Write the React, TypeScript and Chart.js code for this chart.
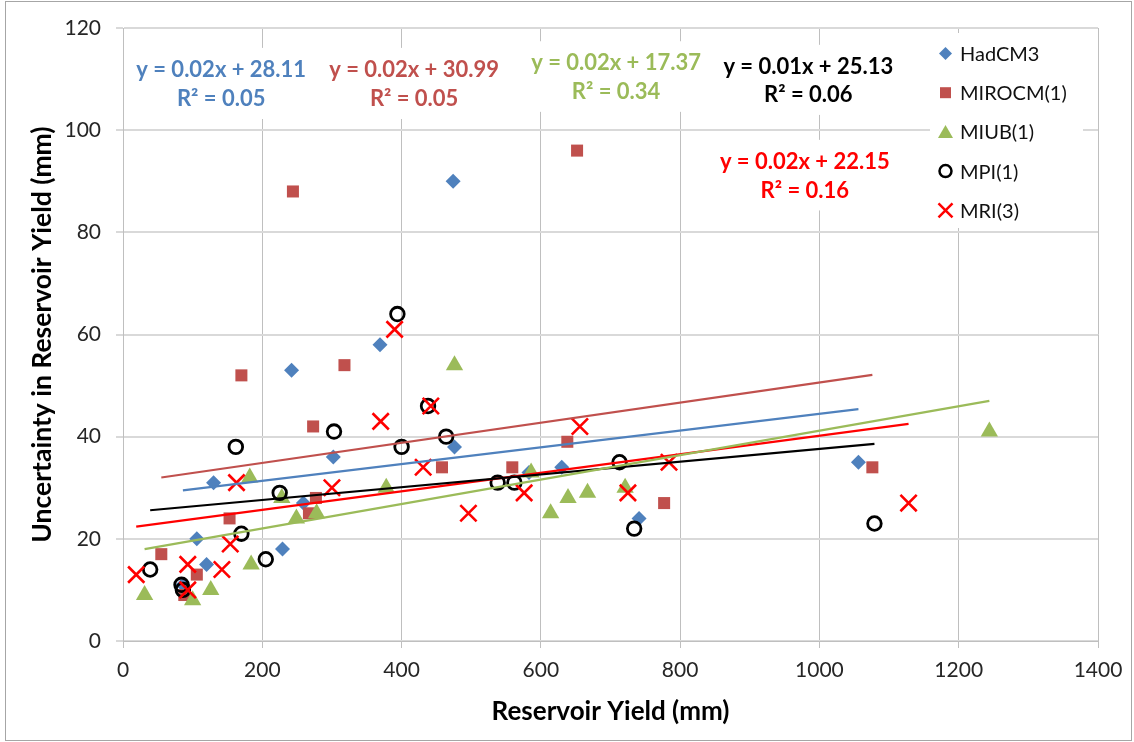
import React, { useEffect, useRef } from 'react';
import { Chart, registerables } from 'chart.js';

Chart.register(...registerables);

// ---- Data ----
const seriesNames = ['HadCM3', 'MIROCM(1)', 'MIUB(1)', 'MPI(1)', 'MRI(3)'];

const hadcm3X = [474, 369, 242, 476, 302, 130, 259, 106, 229, 120, 86, 583, 630, 741, 1056];
const hadcm3Y = [90, 58, 53, 38, 36, 31, 27, 20, 18, 15, 11, 33, 34, 24, 35];

const mirocmX = [652, 244, 170, 318, 273, 458, 559, 638, 153, 277, 267, 55, 106, 88, 777, 1076];
const mirocmY = [96, 88, 52, 54, 42, 34, 34, 39, 24, 28, 25, 17, 13, 9, 27, 34];

const miubX = [476, 182, 378, 228, 278, 249, 184, 126, 31, 100, 586, 614, 639, 667, 721, 1244];
const miubY = [54, 32, 30, 28, 25, 24, 15, 10, 9, 8, 33, 25, 28, 29, 30, 41];

const mpiX = [394, 438, 303, 464, 400, 162, 225, 538, 562, 713, 170, 205, 39, 84, 86, 734, 1079];
const mpiY = [64, 46, 41, 40, 38, 38, 29, 31, 31, 35, 21, 16, 14, 11, 10, 22, 23];

const mriX = [390, 442, 370, 656, 431, 163, 300, 576, 784, 725, 496, 154, 93, 142, 19, 93, 1128];
const mriY = [61, 46, 43, 42, 34, 31, 30, 29, 35, 29, 25, 19, 15, 14, 13, 10, 27];

// Linear trend lines (endpoints), order as seriesNames
const trendStartX = [86, 55, 31, 39, 19];
const trendStartY = [29.5, 32.0, 18.0, 25.6, 22.4];
const trendEndX = [1056, 1076, 1244, 1079, 1128];
const trendEndY = [45.4, 52.1, 47.0, 38.6, 42.5];

const equationTexts = ['y = 0.02x + 28.11', 'y = 0.02x + 30.99', 'y = 0.02x + 17.37', 'y = 0.01x + 25.13', 'y = 0.02x + 22.15'];
const r2Texts = ['R² = 0.05', 'R² = 0.05', 'R² = 0.34', 'R² = 0.06', 'R² = 0.16'];
// label anchor positions in data units
const eqPosX = [141, 418, 708, 984, 979];
const eqPosY = [111.8, 111.8, 113.1, 112.4, 93.8];
const r2PosY = [106.1, 106.1, 107.5, 106.9, 88.2];

const xTicks = [0, 200, 400, 600, 800, 1000, 1200, 1400];
const yTicks = [0, 20, 40, 60, 80, 100, 120];

const xTitle = 'Reservoir Yield (mm)';
const yTitle = 'Uncertainty in Reservoir Yield (mm)';

// ---- Styles ----
const colors = ['#4F81BD', '#C0504D', '#9BBB59', '#000000', '#FF0000'];
const FONT = 'Lato, "Open Sans", sans-serif';

const toPts = (xs: number[], ys: number[]) => xs.map((x, i) => ({ x, y: ys[i] }));

function drawLegendMarker(ctx: CanvasRenderingContext2D, i: number, x: number, y: number) {
  ctx.save();
  ctx.fillStyle = colors[i];
  ctx.strokeStyle = colors[i];
  ctx.beginPath();
  if (i === 0) {
    const r = 6.5;
    ctx.moveTo(x - r, y); ctx.lineTo(x, y - r); ctx.lineTo(x + r, y); ctx.lineTo(x, y + r);
    ctx.closePath(); ctx.fill();
  } else if (i === 1) {
    ctx.rect(x - 5.5, y - 5.5, 11, 11); ctx.fill();
  } else if (i === 2) {
    ctx.moveTo(x, y - 7); ctx.lineTo(x + 7.5, y + 6); ctx.lineTo(x - 7.5, y + 6);
    ctx.closePath(); ctx.fill();
  } else if (i === 3) {
    ctx.lineWidth = 2.5; ctx.arc(x, y, 6, 0, Math.PI * 2); ctx.stroke();
  } else {
    const r = 7;
    ctx.lineWidth = 2.5;
    ctx.moveTo(x - r, y - r); ctx.lineTo(x + r, y + r);
    ctx.moveTo(x + r, y - r); ctx.lineTo(x - r, y + r);
    ctx.stroke();
  }
  ctx.restore();
}

const overlayPlugin = {
  id: 'overlay',
  afterDatasetsDraw(chart: any) {
    const ctx: CanvasRenderingContext2D = chart.ctx;
    const xs = chart.scales.x;
    const ys = chart.scales.y;
    const area = chart.chartArea;
    ctx.save();
    // Trendline equation boxes
    ctx.font = `bold 22px ${FONT}`;
    for (let i = 0; i < equationTexts.length; i++) {
      const cx = xs.getPixelForValue(eqPosX[i]);
      const y1 = ys.getPixelForValue(eqPosY[i]);
      const y2 = ys.getPixelForValue(r2PosY[i]);
      const w = Math.max(ctx.measureText(equationTexts[i]).width, ctx.measureText(r2Texts[i]).width);
      ctx.fillStyle = '#ffffff';
      ctx.fillRect(cx - w / 2 - 6, y1 - 22, w + 12, y2 - y1 + 42);
      ctx.fillStyle = colors[i];
      ctx.textAlign = 'center';
      ctx.textBaseline = 'middle';
      ctx.fillText(equationTexts[i], cx, y1);
      ctx.fillText(r2Texts[i], cx, y2);
    }
    // Legend
    const lx = area.right - 168;
    const ly = area.top + 5;
    ctx.fillStyle = '#ffffff';
    ctx.fillRect(lx, ly, 153, 195);
    ctx.font = `20px ${FONT}`;
    ctx.textAlign = 'left';
    ctx.textBaseline = 'middle';
    for (let i = 0; i < seriesNames.length; i++) {
      const rowY = area.top + 25.5 + i * 39.2;
      drawLegendMarker(ctx, i, lx + 15.5, rowY);
      ctx.fillStyle = '#111111';
      ctx.fillText(seriesNames[i], lx + 30, rowY + 1);
    }
    ctx.restore();
  },
  afterDraw(chart: any) {
    const ctx: CanvasRenderingContext2D = chart.ctx;
    ctx.save();
    ctx.strokeStyle = '#a6a6a6';
    ctx.lineWidth = 1;
    ctx.strokeRect(5.5, 1.5, chart.width - 8, chart.height - 3);
    ctx.restore();
  },
};

export default function App() {
  const canvasRef = useRef<HTMLCanvasElement | null>(null);

  useEffect(() => {
    if (!canvasRef.current) return;
    const trendSets = seriesNames.map((name, i) => ({
      label: name + ' trend',
      data: [
        { x: trendStartX[i], y: trendStartY[i] },
        { x: trendEndX[i], y: trendEndY[i] },
      ],
      showLine: true,
      borderColor: colors[i],
      borderWidth: 2.2,
      pointRadius: 0,
      fill: false,
    }));
    const chart = new Chart(canvasRef.current, {
      type: 'scatter',
      data: {
        datasets: [
          ...trendSets,
          {
            label: seriesNames[4], data: toPts(mriX, mriY), pointStyle: 'crossRot', pointRadius: 11.5,
            pointBorderColor: colors[4], pointBackgroundColor: colors[4], pointBorderWidth: 2.6,
          },
          {
            label: seriesNames[3], data: toPts(mpiX, mpiY), pointStyle: 'circle', pointRadius: 6.8,
            pointBorderColor: colors[3], pointBackgroundColor: 'rgba(0,0,0,0)', pointBorderWidth: 2.8,
          },
          {
            label: seriesNames[2], data: toPts(miubX, miubY), pointStyle: 'triangle', pointRadius: 10,
            pointBorderColor: colors[2], pointBackgroundColor: colors[2], pointBorderWidth: 0,
          },
          {
            label: seriesNames[1], data: toPts(mirocmX, mirocmY), pointStyle: 'rect', pointRadius: 8.5,
            pointBorderColor: colors[1], pointBackgroundColor: colors[1], pointBorderWidth: 0,
          },
          {
            label: seriesNames[0], data: toPts(hadcm3X, hadcm3Y), pointStyle: 'rectRot', pointRadius: 7.5,
            pointBorderColor: colors[0], pointBackgroundColor: colors[0], pointBorderWidth: 0,
          },
        ],
      },
      options: {
        responsive: false,
        animation: false,
        events: [],
        layout: { padding: { top: 28, right: 36, left: 0, bottom: 0 } },
        plugins: { legend: { display: false }, tooltip: { enabled: false } },
        scales: {
          x: {
            type: 'linear',
            min: 0,
            max: 1400,
            afterBuildTicks: (s: any) => { s.ticks = xTicks.map((v) => ({ value: v })); },
            afterFit: (s: any) => { s.height = 101; },
            grid: { color: '#bfbfbf', lineWidth: 1, tickLength: 7 },
            border: { color: '#bfbfbf', width: 1 },
            ticks: {
              color: '#262626', font: { family: FONT, size: 21 }, padding: 10,
              callback: (v: any) => String(v),
            },
            title: {
              display: true, text: xTitle, color: '#000000',
              font: { family: FONT, size: 26, weight: 'bold' }, padding: { top: 0, bottom: 15 },
            },
          },
          y: {
            type: 'linear',
            min: 0,
            max: 120,
            afterBuildTicks: (s: any) => { s.ticks = yTicks.map((v) => ({ value: v })); },
            afterFit: (s: any) => { s.width = 123; },
            grid: { color: '#d9d9d9', lineWidth: 2, tickLength: 7 },
            border: { color: '#bfbfbf', width: 1 },
            ticks: {
              color: '#262626', font: { family: FONT, size: 21 }, padding: 15,
              callback: (v: any) => String(v),
            },
            title: {
              display: true, text: yTitle, color: '#000000',
              font: { family: FONT, size: 26.5, weight: 'bold' }, padding: { top: 27, bottom: 0 },
            },
          },
        },
      },
      plugins: [overlayPlugin],
    } as any);
    return () => chart.destroy();
  }, []);

  return (
    <div style={{ position: 'absolute', left: 0, top: 0, width: 1134, height: 742, background: '#ffffff' }}>
      <canvas ref={canvasRef} width={1134} height={742} style={{ width: 1134, height: 742, display: 'block' }} />
    </div>
  );
}
